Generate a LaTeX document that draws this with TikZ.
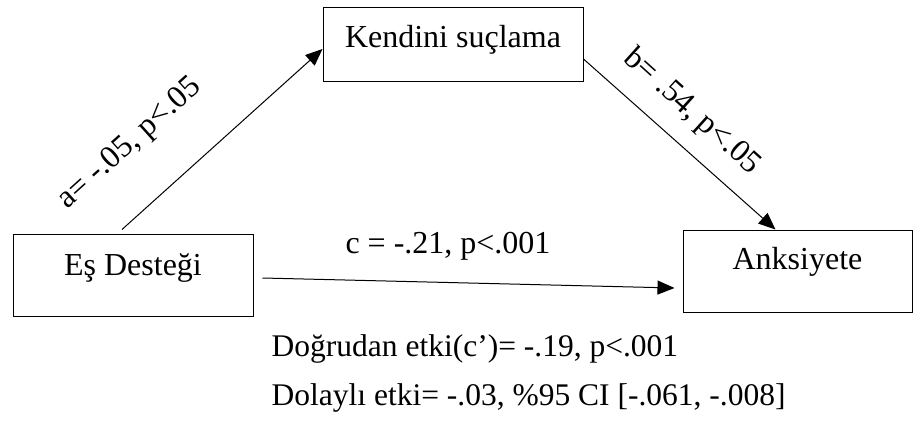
\documentclass[tikz,border=0pt]{standalone}
\usepackage{fontspec}
\setmainfont{Liberation Serif}
\usetikzlibrary{arrows.meta}

\begin{document}
\begin{tikzpicture}[x=1pt, y=-1pt,
  varbox/.style={draw, line width=1pt, rectangle, inner sep=0pt,
    text height=20pt, text depth=20pt,
    font=\fontsize{32}{38}\selectfont},
  path/.style={draw, line width=1pt, -{Triangle[length=17pt, width=14pt]}},
  lbl/.style={inner sep=0pt, font=\fontsize{32}{38}\selectfont},
  note/.style={inner sep=0pt, anchor=base west, font=\fontsize{31.5}{38}\selectfont}]

  \path[use as bounding box] (0,0) rectangle (915,425);

  % variables of the mediation model
  \node[varbox, minimum width=260pt, minimum height=74pt,
        text height=22.5pt, text depth=17.5pt] (ked) at (453,45) {Kendini suçlama};
  \node[varbox, minimum width=240pt, minimum height=82pt] (es) at (133,275) {Eş Desteği};
  \node[varbox, minimum width=229pt, minimum height=82pt,
        text height=18.5pt, text depth=21.5pt] (ank) at (797.5,271) {Anksiyete};

  % paths a, b and c
  \draw[path] ([xshift=-11pt, yshift=4pt]es.north) -- ([yshift=-4pt]ked.west);
  \draw[path] ([yshift=-14pt]ked.east) -- ([xshift=-22pt]ank.north);
  \draw[path] ([xshift=9pt, yshift=-3pt]es.east) -- ([xshift=-8pt, yshift=-17pt]ank.west);

  % path coefficients
  \node[lbl, rotate=42] (la) at (130,144) {a= -.05, p<.05};
  \node[lbl, rotate=-42] (lb) at (692,112) {b= .54, p<.05};
  \node[lbl, anchor=base] (lc) at (448,253) {c = -.21, p<.001};

  % direct and indirect effects
  \node[note] (dir) at (271.5,356) {Doğrudan etki(c’)= -.19, p<.001};
  \node[note] (ind) at (271.5,405) {Dolaylı etki= -.03, \%95 CI [-.061, -.008]};
\end{tikzpicture}
\end{document}
